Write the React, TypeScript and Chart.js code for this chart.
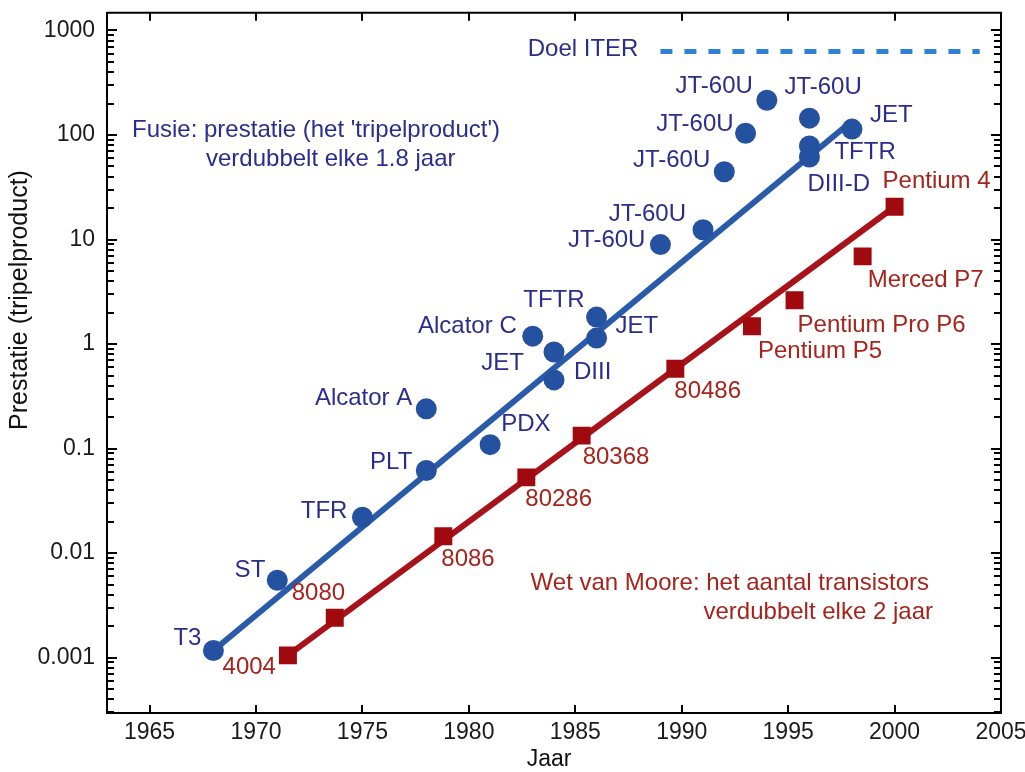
import React, { useEffect, useRef } from 'react';
import { Chart, registerables } from 'chart.js';

Chart.register(...registerables);

// ---------- data ----------
const xTicks = [1965, 1970, 1975, 1980, 1985, 1990, 1995, 2000, 2005];
const yTicks = [0.001, 0.01, 0.1, 1, 10, 100, 1000];

const fusionNames = ['T3', 'ST', 'TFR', 'PLT', 'Alcator A', 'PDX', 'Alcator C', 'JET', 'DIII', 'TFTR', 'JET',
  'JT-60U', 'JT-60U', 'JT-60U', 'JT-60U', 'JT-60U', 'JT-60U', 'TFTR', 'DIII-D', 'JET'];
const fusionYears = [1968, 1971, 1975, 1978, 1978, 1981, 1983, 1984, 1984, 1986, 1986,
  1989, 1991, 1992, 1993, 1994, 1996, 1996, 1996, 1998];
const fusionValues = [0.00117, 0.0055, 0.022, 0.0617, 0.24, 0.109, 1.19, 0.84, 0.454, 1.81, 1.14,
  8.95, 12.4, 44.5, 104, 215, 145, 78.5, 61.6, 114];

const fusionFitYears = [1968, 1998];
const fusionFitValues = [0.00117, 136];

const mooreNames = ['4004', '8080', '8086', '80286', '80368', '80486', 'Pentium P5', 'Pentium Pro P6', 'Merced P7', 'Pentium 4'];
const mooreYears = [1971.5, 1973.7, 1978.8, 1982.7, 1985.3, 1989.7, 1993.3, 1995.3, 1998.5, 2000];
const mooreValues = [0.00105, 0.0024, 0.0145, 0.053, 0.133, 0.58, 1.48, 2.62, 6.9, 20.6];

const mooreFitYears = [1971.5, 2000];
const mooreFitValues = [0.00105, 20.6];

const iterYears = [1989, 2004];
const iterValue = 630;

const iterLabel = 'Doel ITER';
const fusionNote = ["Fusie: prestatie (het 'tripelproduct')", 'verdubbelt elke 1.8 jaar'];
const mooreNote = ['Wet van Moore: het aantal transistors', 'verdubbelt elke 2 jaar'];
const xTitle = 'Jaar';
const yTitle = 'Prestatie (tripelproduct)';

// ---------- styling / placement ----------
const FONT = "'Liberation Sans', Arial, Helvetica, sans-serif";
const LABEL_SIZE = 24;
const TICK_SIZE = 23;
const BLUE_TEXT = '#2b2d8c';
const BLUE_MARK = '#2452a0';
const BLUE_LINE = '#2a5ba8';
const RED_TEXT = '#a5241c';
const RED_MARK = '#a00a0f';
const RED_LINE = '#a8121a';
const ITER_COLOR = '#2f7fd2';

// label offsets in px relative to marker: [dx, dy, align]
const fusionLabelOffsets: [number, number, CanvasTextAlign][] = [
  [-12, -12, 'right'], [-12, -10, 'right'], [-15, -6, 'right'], [-14, -8, 'right'], [-14, -10, 'right'],
  [11, -20, 'left'], [-16, -10, 'right'], [-30, 11, 'right'], [20, -8, 'left'], [-12, -17, 'right'],
  [19, -12, 'left'], [-15, -4, 'right'], [-17, -15, 'right'], [-14, -11, 'right'], [-12, -9, 'right'],
  [-14, -14, 'right'], [-25, -31, 'left'], [25, 6, 'left'], [-2, 27, 'left'], [18, -14, 'left'],
];
const mooreLabelOffsets: [number, number, CanvasTextAlign][] = [
  [-12, 12, 'right'], [-43, -24, 'left'], [-2, 23, 'left'], [-1, 22, 'left'], [1, 22, 'left'],
  [-1, 23, 'left'], [6, 25, 'left'], [3, 25, 'left'], [5, 24, 'left'], [-12, -25, 'left'],
];

const overlayPlugin = {
  id: 'overlay',
  afterDatasetsDraw(chart: any) {
    const { ctx, chartArea } = chart;
    const xs = chart.scales.x;
    const ys = chart.scales.y;
    ctx.save();

    // frame: top and right edges
    ctx.strokeStyle = '#000';
    ctx.lineWidth = 2;
    ctx.beginPath();
    ctx.moveTo(chartArea.left, chartArea.top);
    ctx.lineTo(chartArea.right, chartArea.top);
    ctx.lineTo(chartArea.right, chartArea.bottom);
    ctx.stroke();

    // inward ticks
    ctx.lineWidth = 2;
    ctx.beginPath();
    xTicks.forEach((v) => {
      const px = Math.round(xs.getPixelForValue(v));
      if (px >= chartArea.right - 1) return;
      ctx.moveTo(px, chartArea.bottom);
      ctx.lineTo(px, chartArea.bottom - 8);
      ctx.moveTo(px, chartArea.top);
      ctx.lineTo(px, chartArea.top + 8);
    });
    ctx.stroke();
    ctx.beginPath();
    for (let e = -4; e <= 3; e++) {
      for (let m = 1; m <= 9; m++) {
        const v = m * Math.pow(10, e);
        if (v < ys.min || v > ys.max) continue;
        const py = Math.round(ys.getPixelForValue(v));
        const len = m === 1 ? 10 : 7;
        ctx.moveTo(chartArea.left, py);
        ctx.lineTo(chartArea.left + len, py);
        ctx.moveTo(chartArea.right, py);
        ctx.lineTo(chartArea.right - len, py);
      }
    }
    ctx.stroke();

    ctx.textBaseline = 'middle';
    ctx.font = `${LABEL_SIZE}px ${FONT}`;

    // point labels
    ctx.fillStyle = BLUE_TEXT;
    fusionNames.forEach((n, i) => {
      const px = xs.getPixelForValue(fusionYears[i]);
      const py = ys.getPixelForValue(fusionValues[i]);
      const [dx, dy, al] = fusionLabelOffsets[i];
      ctx.textAlign = al;
      ctx.fillText(n, px + dx, py + dy);
    });
    ctx.fillStyle = RED_TEXT;
    mooreNames.forEach((n, i) => {
      const px = xs.getPixelForValue(mooreYears[i]);
      const py = ys.getPixelForValue(mooreValues[i]);
      const [dx, dy, al] = mooreLabelOffsets[i];
      ctx.textAlign = al;
      ctx.fillText(n, px + dx, py + dy);
    });

    // ITER label
    ctx.fillStyle = BLUE_TEXT;
    ctx.textAlign = 'right';
    ctx.fillText(iterLabel, xs.getPixelForValue(iterYears[0]) - 22, ys.getPixelForValue(iterValue) - 2);

    // notes
    ctx.textAlign = 'left';
    ctx.fillText(fusionNote[0], 132, 130);
    ctx.fillText(fusionNote[1], 206, 159);
    ctx.fillStyle = RED_TEXT;
    ctx.textAlign = 'right';
    ctx.fillText(mooreNote[0], 929, 583);
    ctx.fillText(mooreNote[1], 933, 612);

    // axis titles
    ctx.fillStyle = '#111';
    ctx.textAlign = 'center';
    ctx.font = `23px ${FONT}`;
    ctx.fillText(xTitle, 549, 760);
    ctx.font = `25px ${FONT}`;
    ctx.save();
    ctx.translate(20, 300);
    ctx.rotate(-Math.PI / 2);
    ctx.fillText(yTitle, 0, 0);
    ctx.restore();

    ctx.restore();
  },
};

export default function App() {
  const ref = useRef<HTMLCanvasElement | null>(null);

  useEffect(() => {
    document.body.style.margin = '0';
    const canvas = ref.current;
    if (!canvas) return;
    const chart = new Chart(canvas, {
      type: 'scatter',
      data: {
        datasets: [
          {
            label: 'Fusie',
            data: fusionYears.map((x, i) => ({ x, y: fusionValues[i] })),
            backgroundColor: BLUE_MARK,
            borderWidth: 0,
            pointRadius: 10.5,
            pointStyle: 'circle',
            order: 0,
          },
          {
            label: 'Moore',
            data: mooreYears.map((x, i) => ({ x, y: mooreValues[i] })),
            backgroundColor: RED_MARK,
            borderWidth: 0,
            pointRadius: 12.7,
            pointStyle: 'rect',
            order: 0,
          },
          {
            label: 'Fusie trend',
            data: fusionFitYears.map((x, i) => ({ x, y: fusionFitValues[i] })),
            showLine: true,
            borderColor: BLUE_LINE,
            borderWidth: 6,
            pointRadius: 0,
            order: 1,
          },
          {
            label: 'Moore trend',
            data: mooreFitYears.map((x, i) => ({ x, y: mooreFitValues[i] })),
            showLine: true,
            borderColor: RED_LINE,
            borderWidth: 6,
            pointRadius: 0,
            order: 1,
          },
          {
            label: 'ITER',
            data: iterYears.map((x) => ({ x, y: iterValue })),
            showLine: true,
            borderColor: ITER_COLOR,
            borderWidth: 5,
            borderDash: [12, 12],
            pointRadius: 0,
            order: 1,
          },
        ],
      },
      options: {
        animation: false,
        responsive: false,
        devicePixelRatio: 1,
        layout: { padding: { top: 8, right: 24, left: 0, bottom: 0 } },
        plugins: { legend: { display: false }, tooltip: { enabled: false } },
        scales: {
          x: {
            type: 'linear',
            min: 1963,
            max: 2005,
            grid: { display: false, drawTicks: false },
            border: { display: true, color: '#000', width: 2 },
            ticks: {
              font: { family: FONT, size: TICK_SIZE },
              color: '#1a1a1a',
              padding: 6,
              maxRotation: 0,
              autoSkip: false,
              callback: (v: any) => String(v),
            },
            afterBuildTicks: (s: any) => {
              s.ticks = xTicks.map((v) => ({ value: v }));
            },
            afterFit: (s: any) => {
              s.height = 59;
              s.paddingLeft = 0;
              s.paddingRight = 0;
            },
          },
          y: {
            type: 'logarithmic',
            min: 0.000295,
            max: 1480,
            grid: { display: false, drawTicks: false },
            border: { display: true, color: '#000', width: 2 },
            ticks: {
              font: { family: FONT, size: TICK_SIZE },
              color: '#1a1a1a',
              padding: 12,
              autoSkip: false,
              callback: (v: any) => String(v),
            },
            afterBuildTicks: (s: any) => {
              s.ticks = yTicks.map((v) => ({ value: v }));
            },
            afterFit: (s: any) => {
              s.width = 107;
              s.paddingTop = 0;
              s.paddingBottom = 0;
            },
          },
        },
      },
      plugins: [overlayPlugin],
    });
    return () => chart.destroy();
  }, []);

  return (
    <canvas ref={ref} width={1025} height={772} style={{ display: 'block', width: 1025, height: 772 }} />
  );
}
